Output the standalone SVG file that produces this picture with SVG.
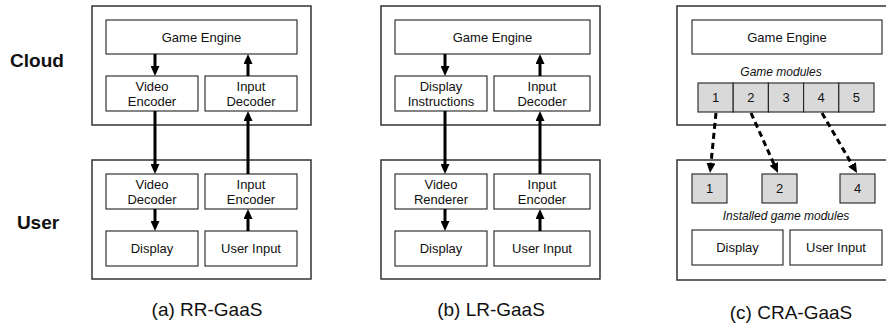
<svg xmlns="http://www.w3.org/2000/svg" width="886" height="325" viewBox="0 0 886 325">
<style>
text{font-family:"Liberation Sans",Arial,sans-serif;fill:#111;text-anchor:middle}
.t{font-size:13px}
.it{font-size:12px;font-style:italic}
.lbl{font-size:19px;font-weight:bold}
.cap{font-size:19px}
.outer{fill:#fff;stroke:#333;stroke-width:1.5}
.box{fill:#fff;stroke:#222;stroke-width:1.1}
.mod{fill:#d9d9d9;stroke:#222;stroke-width:1.1}
.a{stroke:#000;stroke-width:3;fill:none;marker-end:url(#ah)}
.d{stroke:#000;stroke-width:3;fill:none;stroke-dasharray:6 4;marker-end:url(#ah)}
</style>
<defs>
<marker id="ah" markerUnits="userSpaceOnUse" markerWidth="10" markerHeight="9" refX="3" refY="4.5" orient="auto">
<path d="M0,0 L10,4.5 L0,9 z" fill="#000"/>
</marker>
</defs>
<rect width="886" height="325" fill="#fff"/>
<text class="lbl" x="37" y="67">Cloud</text>
<text class="lbl" x="38" y="229">User</text>

<!-- Panel a -->
<g id="a-cloud"><rect class="outer" x="92" y="6" width="219" height="119"/></g>
<g id="a-user"><rect class="outer" x="92" y="160" width="219" height="119"/></g>
<g id="a-engine"><rect class="box" x="106" y="20" width="191" height="34"/><text class="t" x="201.5" y="42">Game Engine</text></g>
<g id="a-venc"><rect class="box" x="106" y="76" width="92" height="35"/><text class="t" x="152" y="91">Video</text><text class="t" x="152" y="106">Encoder</text></g>
<g id="a-idec"><rect class="box" x="205" y="76" width="92" height="35"/><text class="t" x="251" y="91">Input</text><text class="t" x="251" y="106">Decoder</text></g>
<g id="a-vdec"><rect class="box" x="106" y="174" width="92" height="35"/><text class="t" x="152" y="189">Video</text><text class="t" x="152" y="204">Decoder</text></g>
<g id="a-ienc"><rect class="box" x="205" y="174" width="92" height="35"/><text class="t" x="251" y="189">Input</text><text class="t" x="251" y="204">Encoder</text></g>
<g id="a-disp"><rect class="box" x="106" y="231" width="92" height="35"/><text class="t" x="152" y="253">Display</text></g>
<g id="a-uin"><rect class="box" x="205" y="231" width="92" height="35"/><text class="t" x="251" y="253">User Input</text></g>
<text class="cap" x="207" y="316">(a) RR-GaaS</text>

<!-- Panel b -->
<g id="b-cloud"><rect class="outer" x="381" y="6" width="219" height="119"/></g>
<g id="b-user"><rect class="outer" x="381" y="160" width="219" height="119"/></g>
<g id="b-engine"><rect class="box" x="395" y="20" width="195" height="34"/><text class="t" x="492.5" y="42">Game Engine</text></g>
<g id="b-dins"><rect class="box" x="395" y="76" width="92" height="35"/><text class="t" x="441" y="91">Display</text><text class="t" x="441" y="106">Instructions</text></g>
<g id="b-idec"><rect class="box" x="494" y="76" width="96" height="35"/><text class="t" x="542" y="91">Input</text><text class="t" x="542" y="106">Decoder</text></g>
<g id="b-vren"><rect class="box" x="395" y="174" width="92" height="35"/><text class="t" x="441" y="189">Video</text><text class="t" x="441" y="204">Renderer</text></g>
<g id="b-ienc"><rect class="box" x="494" y="174" width="96" height="35"/><text class="t" x="542" y="189">Input</text><text class="t" x="542" y="204">Encoder</text></g>
<g id="b-disp"><rect class="box" x="395" y="231" width="92" height="35"/><text class="t" x="441" y="253">Display</text></g>
<g id="b-uin"><rect class="box" x="494" y="231" width="96" height="35"/><text class="t" x="542" y="253">User Input</text></g>
<text class="cap" x="491" y="316">(b) LR-GaaS</text>

<!-- Panel c -->
<g id="c-cloud"><rect class="outer" x="677" y="6" width="220" height="119"/></g>
<g id="c-user"><rect class="outer" x="677" y="160" width="220" height="120"/></g>
<g id="c-engine"><rect class="box" x="692" y="20" width="190" height="34"/><text class="t" x="787" y="42">Game Engine</text></g>
<text class="it" x="781" y="76">Game modules</text>
<g id="c-m1"><rect class="mod" x="698" y="83" width="35.2" height="29"/><text class="t" x="715.6" y="102">1</text></g>
<g id="c-m2"><rect class="mod" x="733.2" y="83" width="35.2" height="29"/><text class="t" x="750.8" y="102">2</text></g>
<g id="c-m3"><rect class="mod" x="768.4" y="83" width="35.2" height="29"/><text class="t" x="786" y="102">3</text></g>
<g id="c-m4"><rect class="mod" x="803.6" y="83" width="35.2" height="29"/><text class="t" x="821.2" y="102">4</text></g>
<g id="c-m5"><rect class="mod" x="838.8" y="83" width="35.2" height="29"/><text class="t" x="856.4" y="102">5</text></g>
<g id="c-i1"><rect class="mod" x="692" y="174" width="35" height="29"/><text class="t" x="709.5" y="193">1</text></g>
<g id="c-i2"><rect class="mod" x="762" y="174" width="35" height="29"/><text class="t" x="779.5" y="193">2</text></g>
<g id="c-i4"><rect class="mod" x="840" y="174" width="35" height="29"/><text class="t" x="857.5" y="193">4</text></g>
<text class="it" x="786" y="220">Installed game modules</text>
<g id="c-disp"><rect class="box" x="692" y="230" width="91" height="35"/><text class="t" x="737.5" y="252">Display</text></g>
<g id="c-uin"><rect class="box" x="790" y="230" width="92" height="35"/><text class="t" x="836" y="252">User Input</text></g>
<text class="cap" x="791" y="319">(c) CRA-GaaS</text>

<g id="connectors">
<line class="a" x1="155" y1="54" x2="155" y2="69"/>
<line class="a" x1="248" y1="76" x2="248" y2="61"/>
<line class="a" x1="155" y1="111" x2="155" y2="167"/>
<line class="a" x1="248" y1="174" x2="248" y2="118"/>
<line class="a" x1="155" y1="209" x2="155" y2="224"/>
<line class="a" x1="248" y1="231" x2="248" y2="216"/>
<line class="a" x1="445" y1="54" x2="445" y2="69"/>
<line class="a" x1="540" y1="76" x2="540" y2="61"/>
<line class="a" x1="445" y1="111" x2="445" y2="167"/>
<line class="a" x1="540" y1="174" x2="540" y2="118"/>
<line class="a" x1="445" y1="209" x2="445" y2="224"/>
<line class="a" x1="540" y1="231" x2="540" y2="216"/>
<line class="d" x1="716" y1="113" x2="710.7" y2="166"/>
<line class="d" x1="751" y1="113" x2="775.1" y2="166.6"/>
<line class="d" x1="822" y1="113" x2="853.5" y2="167"/>
</g>
</svg>
